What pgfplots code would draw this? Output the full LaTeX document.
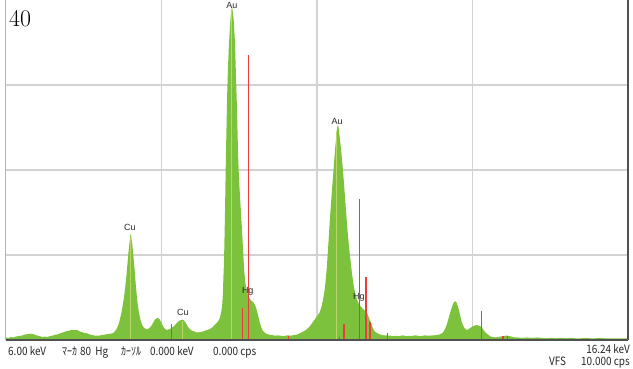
\documentclass[border=0pt]{standalone}
\usepackage{pgfplots}
\pgfplotsset{compat=1.18}
\usepackage{pgfplotstable}
\usepackage{fontspec}
\newfontfamily\jp[FakeStretch=0.87]{Noto Sans CJK JP}
\newfontfamily\lab{Liberation Sans}
\definecolor{specgreen}{RGB}{125,194,60}
\definecolor{markgreen}{RGB}{186,214,104}
\definecolor{markred}{RGB}{238,60,60}
\definecolor{gridgray}{RGB}{210,210,210}
\definecolor{edgedark}{RGB}{80,80,80}
\definecolor{edgelight}{RGB}{180,180,180}
\definecolor{labgray}{RGB}{40,40,40}

\pgfplotstableread{
E c
6.00 0.30
6.04 0.25
6.08 0.35
6.12 0.30
6.16 0.40
6.20 0.45
6.24 0.50
6.28 0.55
6.32 0.65
6.36 0.70
6.40 0.75
6.44 0.70
6.48 0.60
6.52 0.50
6.56 0.45
6.60 0.35
6.64 0.40
6.68 0.35
6.72 0.45
6.76 0.50
6.80 0.60
6.84 0.65
6.88 0.75
6.92 0.85
6.96 0.95
7.00 1.05
7.04 1.10
7.08 1.20
7.12 1.15
7.16 1.20
7.20 1.05
7.24 0.95
7.28 0.85
7.32 0.80
7.36 0.70
7.40 0.60
7.44 0.55
7.48 0.50
7.52 0.50
7.56 0.55
7.60 0.60
7.64 0.65
7.68 0.70
7.72 0.75
7.76 0.80
7.78 0.90
7.80 1.10
7.82 1.30
7.84 1.60
7.86 2.00
7.88 2.60
7.90 3.20
7.92 4.00
7.94 4.90
7.96 6.00
7.98 7.40
8.00 9.00
8.02 10.6
8.04 11.9
8.05 12.5
8.06 12.2
8.08 11.2
8.10 9.70
8.12 8.00
8.14 6.20
8.16 4.70
8.18 3.60
8.20 2.80
8.22 2.20
8.24 1.80
8.26 1.55
8.28 1.40
8.30 1.30
8.32 1.25
8.34 1.30
8.36 1.40
8.38 1.55
8.40 1.75
8.42 2.00
8.44 2.25
8.46 2.45
8.48 2.55
8.50 2.60
8.52 2.50
8.54 2.30
8.56 2.00
8.58 1.70
8.60 1.45
8.62 1.30
8.64 1.20
8.66 1.20
8.68 1.25
8.70 1.30
8.72 1.40
8.74 1.50
8.76 1.60
8.78 1.75
8.80 1.90
8.82 2.05
8.84 2.20
8.86 2.30
8.88 2.35
8.90 2.40
8.92 2.35
8.94 2.20
8.96 2.00
8.98 1.75
9.00 1.50
9.02 1.35
9.04 1.20
9.06 1.10
9.08 1.05
9.10 1.00
9.12 0.95
9.14 0.90
9.16 0.90
9.18 0.90
9.20 0.95
9.22 0.95
9.24 1.00
9.26 1.05
9.28 1.10
9.30 1.15
9.32 1.20
9.34 1.25
9.36 1.30
9.38 1.40
9.40 1.50
9.42 1.65
9.44 1.80
9.46 1.95
9.48 2.10
9.50 2.30
9.52 2.60
9.54 3.20
9.55 3.60
9.56 4.20
9.57 5.40
9.58 7.50
9.59 9.50
9.60 13.0
9.61 17.0
9.62 21.5
9.63 25.0
9.64 28.5
9.65 31.0
9.66 33.0
9.67 34.8
9.68 36.0
9.69 37.2
9.70 38.2
9.71 38.8
9.72 39.2
9.73 38.8
9.74 38.2
9.75 37.5
9.76 36.2
9.77 35.0
9.78 32.5
9.79 30.2
9.80 27.8
9.81 25.0
9.82 22.0
9.83 20.0
9.84 18.5
9.85 17.2
9.86 16.0
9.87 14.8
9.88 13.6
9.90 11.0
9.92 8.30
9.94 6.80
9.96 5.80
9.98 5.40
10.00 5.00
10.02 4.80
10.04 4.60
10.06 4.50
10.08 4.35
10.10 4.10
10.12 3.70
10.14 3.20
10.16 2.60
10.18 2.00
10.20 1.55
10.22 1.20
10.24 1.00
10.26 0.85
10.28 0.75
10.32 0.65
10.36 0.60
10.40 0.55
10.44 0.50
10.48 0.55
10.52 0.50
10.56 0.45
10.60 0.50
10.64 0.55
10.68 0.50
10.72 0.55
10.76 0.60
10.80 0.65
10.84 0.80
10.88 0.95
10.92 1.10
10.96 1.30
11.00 1.60
11.04 2.00
11.08 2.40
11.10 2.60
11.12 2.80
11.14 3.00
11.16 3.20
11.18 3.60
11.20 4.10
11.22 4.80
11.24 5.60
11.26 6.80
11.28 8.40
11.30 10.5
11.32 12.8
11.34 15.0
11.36 17.0
11.38 18.9
11.40 20.8
11.42 22.6
11.44 24.2
11.45 24.9
11.46 25.3
11.47 25.2
11.48 24.7
11.50 23.5
11.52 22.1
11.54 20.6
11.56 18.8
11.58 16.9
11.60 15.0
11.62 13.1
11.64 11.5
11.66 10.1
11.68 8.80
11.70 7.60
11.72 6.60
11.74 5.80
11.76 5.20
11.78 4.70
11.80 4.40
11.82 4.10
11.84 3.95
11.86 3.80
11.88 3.65
11.90 3.50
11.92 3.40
11.94 3.25
11.96 2.90
11.98 2.50
12.00 2.20
12.02 1.80
12.04 1.40
12.06 1.10
12.08 0.95
12.10 0.85
12.14 0.70
12.18 0.60
12.22 0.55
12.26 0.55
12.30 0.50
12.34 0.50
12.38 0.45
12.42 0.50
12.46 0.45
12.50 0.50
12.54 0.55
12.58 0.45
12.62 0.50
12.66 0.45
12.70 0.50
12.74 0.55
12.78 0.50
12.82 0.45
12.86 0.50
12.90 0.55
12.94 0.50
12.98 0.50
13.02 0.55
13.06 0.55
13.10 0.60
13.14 0.65
13.18 0.80
13.20 0.95
13.22 1.20
13.24 1.50
13.26 1.90
13.28 2.40
13.30 2.90
13.32 3.40
13.34 3.85
13.36 4.25
13.38 4.50
13.40 4.55
13.42 4.35
13.44 3.95
13.46 3.40
13.48 2.80
13.50 2.20
13.52 1.80
13.54 1.50
13.56 1.30
13.58 1.20
13.60 1.20
13.62 1.30
13.64 1.40
13.66 1.50
13.68 1.60
13.70 1.65
13.72 1.70
13.74 1.75
13.76 1.75
13.78 1.70
13.80 1.65
13.82 1.55
13.84 1.40
13.86 1.20
13.88 1.00
13.90 0.85
13.94 0.60
13.98 0.40
14.02 0.35
14.06 0.30
14.10 0.35
14.14 0.40
14.18 0.45
14.22 0.50
14.26 0.50
14.30 0.45
14.34 0.35
14.38 0.30
14.42 0.30
14.50 0.25
14.58 0.30
14.66 0.25
14.74 0.30
14.82 0.25
14.90 0.20
14.98 0.25
15.06 0.20
15.14 0.25
15.22 0.20
15.30 0.25
15.38 0.20
15.46 0.20
15.54 0.25
15.62 0.20
15.70 0.20
15.78 0.25
15.86 0.20
15.94 0.20
16.02 0.20
16.10 0.20
16.18 0.20
16.24 0.20
}\spectrum

\begin{document}
\begin{tikzpicture}
\path[use as bounding box] (-6bp,-29bp) rectangle (627bp,340bp);
\begin{axis}[
  at={(0,0)}, anchor=south west,
  scale only axis, width=622bp, height=340bp,
  xmin=6, xmax=16.24, ymin=0, ymax=40,
  xtick={8.56,11.12,13.68}, ytick={10,20,30},
  xticklabels={}, yticklabels={},
  major tick length=0pt,
  grid=major, grid style={line width=1.2bp, draw=gridgray},
  axis line style={draw=none},
  clip=false,
  hgline/.style={draw=markred, line width=1.4bp, mark=none, forget plot},
]
\addplot[fill=specgreen, draw=none] table[x=E, y=c] {\spectrum} \closedcycle;
% element marker lines (Cu, Au)
\addplot[ycomb, draw=markgreen, line width=1.1bp, mark=none] coordinates {
  (8.048,12.0) (8.905,2.2) (9.713,38.8) (11.442,24.6)
};
% Hg marker lines
\addplot[hgline] coordinates {(8.722,0) (8.722,1.9)};
\addplot[hgline] coordinates {(9.898,0) (9.898,3.8)};
\addplot[hgline] coordinates {(9.989,0) (9.989,33.5)};
\addplot[hgline] coordinates {(10.647,0) (10.647,0.5)};
\addplot[hgline] coordinates {(11.490,0) (11.490,0.4)};
\addplot[hgline] coordinates {(11.563,0) (11.563,1.9)};
\addplot[hgline] coordinates {(11.823,0) (11.823,16.6)};
\addplot[hgline] coordinates {(11.924,0) (11.924,7.4)};
\addplot[hgline] coordinates {(11.990,0) (11.990,2.1)};
\addplot[hgline] coordinates {(12.280,0) (12.280,0.8)};
\addplot[hgline] coordinates {(13.830,0) (13.830,3.45)};
\addplot[hgline] coordinates {(14.180,0) (14.180,0.5)};
\addplot[hgline] coordinates {(14.260,0) (14.260,0.5)};
\begin{scope}[every node/.style={font=\lab\fontsize{9}{9}\selectfont, text=labgray, inner sep=0pt}]
\node at (axis cs:8.04,13.2) {Cu};
\node at (axis cs:8.91,3.3) {Cu};
\node at (axis cs:9.72,39.4) {Au};
\node at (axis cs:9.98,5.76) {Hg};
\node at (axis cs:11.45,25.76) {Au};
\node at (axis cs:11.81,5.06) {Hg};
\end{scope}
\draw[edgelight, line width=1bp] (rel axis cs:0,0) -- (rel axis cs:0,1);
\draw[edgedark, line width=1.2bp] (rel axis cs:0,0) -- (rel axis cs:1,0);
\draw[edgedark, line width=1.5bp] (rel axis cs:1,0) -- (rel axis cs:1,1);
\end{axis}
\node[anchor=base west, inner sep=0pt, font=\fontsize{24}{24}\selectfont] at (3bp,313bp) {40};
\begin{scope}[every node/.style={inner sep=0pt, font=\jp\fontsize{11.5}{11.5}\selectfont, text=black!85}]
\node[anchor=base west] at (2bp,-15bp) {6.00 keV};
\node[anchor=base west] at (56bp,-15bp) {ﾏｰｶ\hspace{3bp}80\hspace{2bp} Hg};
\node[anchor=base west] at (115bp,-15bp) {ｶｰｿﾙ\hspace{9bp}0.000 keV};
\node[anchor=base west] at (207bp,-15bp) {0.000 cps};
\node[anchor=base east] at (624bp,-13bp) {16.24 keV};
\node[anchor=base west] at (543bp,-25bp) {VFS};
\node[anchor=base east] at (624bp,-25bp) {10.000 cps};
\end{scope}
\end{tikzpicture}
\end{document}
